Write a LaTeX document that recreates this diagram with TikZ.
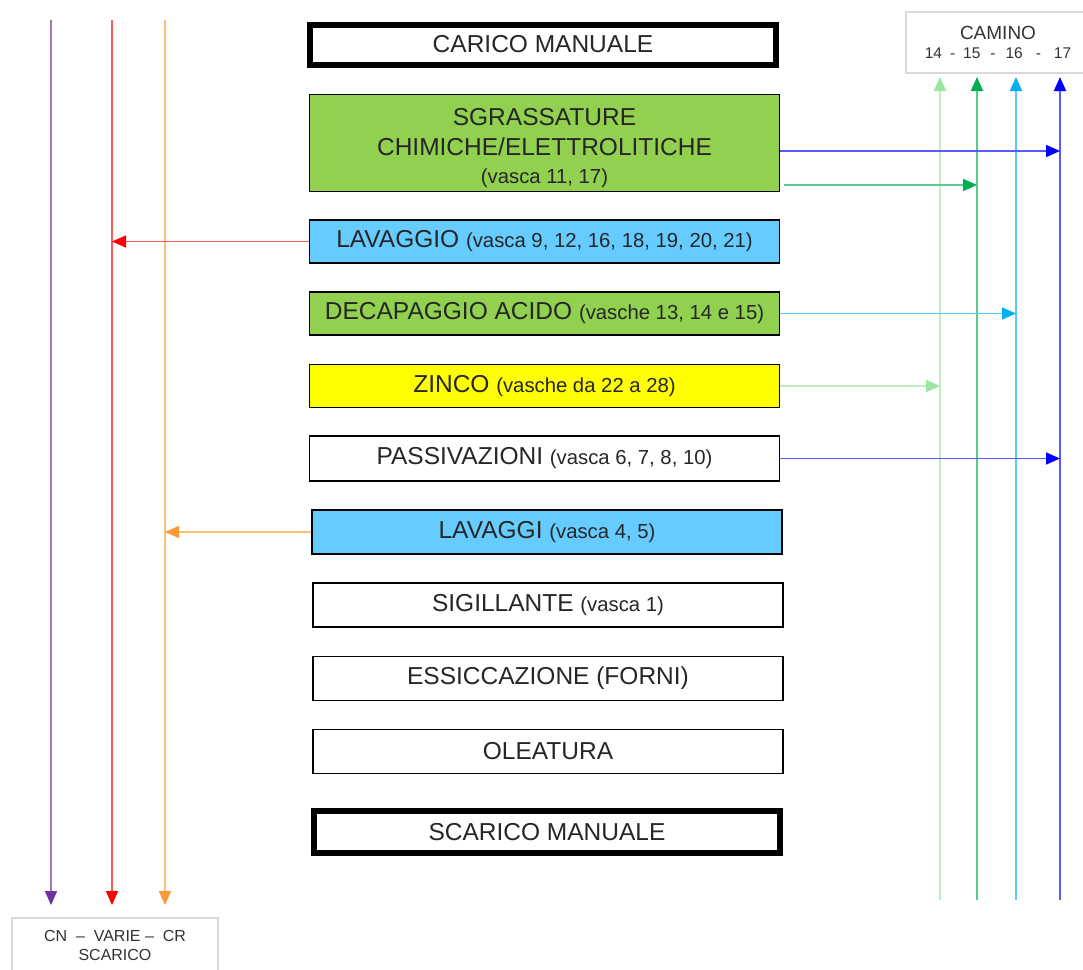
\documentclass[tikz,border=0pt]{standalone}
\usepackage{fontspec}
\setmainfont{Liberation Sans}
\usepackage{xcolor}
\usepackage{tikz}
\usetikzlibrary{arrows.meta,positioning,calc}
\definecolor{vpurple}{HTML}{7030A0}
\definecolor{vred}{HTML}{FF0000}
\definecolor{vorange}{HTML}{FF9933}
\definecolor{kpale}{HTML}{99E6A0}
\definecolor{kgreen}{HTML}{00B050}
\definecolor{kcyan}{HTML}{00B0F0}
\definecolor{kblue}{HTML}{0000FF}
\definecolor{fgreen}{HTML}{92D050}
\definecolor{fcyan}{HTML}{66CCFF}
\definecolor{fyellow}{HTML}{FFFF00}
\newcommand{\tank}[1]{{\fontsize{20.3}{22}\selectfont #1}}
\tikzset{
  stage/.style   ={draw,line width=1.6pt,minimum width=470pt,minimum height=43pt,inner sep=0pt,font=\fontsize{24.5}{29}\selectfont,align=center,text=black!85},
  endstage/.style={stage,line width=6pt,minimum width=466pt,minimum height=40pt},
  outbox/.style  ={draw=black!15,line width=1.5pt,fill=white,inner sep=0pt,font=\fontsize{16}{19}\selectfont,align=center,text=black!80},
  flow/.style    ={draw=#1!65,line width=1.7pt,-{Triangle[length=14pt,width=12pt,color=#1]}},
}
\begin{document}
\begin{tikzpicture}[x=1pt,y=-1pt]
  \useasboundingbox (0,0) rectangle (1083,969);
  % process line
  \node[endstage](carico) at (543,44.5){CARICO MANUALE};
  \node[stage,fill=fgreen,minimum height=97pt](sgrass) at (544.5,143){\rule{0pt}{28pt}SGRASSATURE\\[1pt]CHIMICHE/ELETTROLITICHE\\[-1pt]\tank{(vasca 11, 17)}};
  \node[stage,fill=fcyan](lavaggio) at (544.5,241.5){LAVAGGIO \tank{(vasca 9, 12, 16, 18, 19, 20, 21)}};
  \node[stage,fill=fgreen](decap) at (544.5,313.5){DECAPAGGIO ACIDO \tank{(vasche 13, 14 e 15)}};
  \node[stage,fill=fyellow](zinco) at (544.5,386){ZINCO \tank{(vasche da 22 a 28)}};
  \node[stage,minimum height=45pt](passiv) at (544.5,458.5){PASSIVAZIONI \tank{(vasca 6, 7, 8, 10)}};
  \node[stage,fill=fcyan,minimum height=44pt](lavaggi) at (547,532){LAVAGGI \tank{(vasca 4, 5)}};
  \node[stage,minimum height=44pt](sigill) at (548,605){SIGILLANTE \tank{(vasca 1)}};
  \node[stage,minimum height=44pt](essicc) at (548,678.5){ESSICCAZIONE (FORNI)};
  \node[stage,minimum height=44pt](oleat) at (548,751.5){OLEATURA};
  \node[endstage,minimum height=42pt](scarico) at (547,832){SCARICO MANUALE};
  % outlets
  \node[outbox,minimum width=184pt,minimum height=61pt](camino) at (998,42.5){\fontsize{19}{21}\selectfont CAMINO\\\fontsize{15.5}{19}\selectfont 14\hspace{8pt}-\hspace{8pt}15\hspace{10pt}-\hspace{10pt}16\hspace{13pt}-\hspace{13pt}17};
  \node[outbox,minimum width=206pt,minimum height=55pt](drain) at (115,945.5){CN\ \ --\ \ VARIE -- \ CR\\SCARICO};
  \foreach \n/\x/\c in {cn/51/vpurple,varie/112/vred,cr/165/vorange}{
    \coordinate(\n-top) at (\x,20); \coordinate(\n-bot) at (\x,905);
    \draw[flow=\c](\n-top)--(\n-bot);}
  \foreach \n/\x/\c in {14/940/kpale,15/977/kgreen,16/1016/kcyan,17/1060/kblue}{
    \coordinate(k\n-bot) at (\x,900); \coordinate(k\n-top) at (\x,77);
    \draw[flow=\c](k\n-bot)--(k\n-top);}
  \coordinate(sg1) at ($(sgrass.east)+(0,8)$);
  \coordinate(sg2) at ($(sgrass.east)+(4,42)$);
  \draw[flow=kblue](sg1)--(sg1 -| k17-top);
  \draw[flow=kgreen](sg2)--(sg2 -| k15-top);
  \draw[flow=kcyan](decap.east)--(decap.east -| k16-top);
  \draw[flow=kpale](zinco.east)--(zinco.east -| k14-top);
  \draw[flow=kblue](passiv.east)--(passiv.east -| k17-top);
  \draw[flow=vred](lavaggio.west)--(lavaggio.west -| varie-top);
  \draw[flow=vorange](lavaggi.west)--(lavaggi.west -| cr-top);
\end{tikzpicture}
\end{document}
